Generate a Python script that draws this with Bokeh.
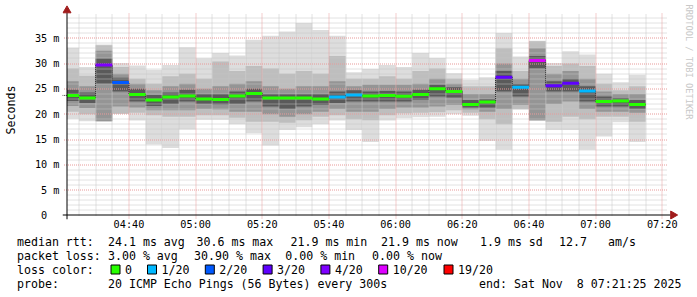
from math import pi
from bokeh.plotting import figure
from bokeh.models import Range1d, FixedTicker
from bokeh.core.properties import value
from bokeh.embed import file_html
from bokeh.resources import INLINE

# ---------------- data ----------------
bar_times = ["04:20", "04:25", "04:30", "04:35", "04:40", "04:45", "04:50", "04:55",
             "05:00", "05:05", "05:10", "05:15", "05:20", "05:25", "05:30", "05:35",
             "05:40", "05:45", "05:50", "05:55", "06:00", "06:05", "06:10", "06:15",
             "06:20", "06:25", "06:30", "06:35", "06:40", "06:45", "06:50", "06:55",
             "07:00", "07:05", "07:10"]
# RTT smoke bands (ms): outermost (min/max) to innermost, plus median
rtt_min = [19.1, 18.6, 18.6, 20.1, 18.75, 14.0, 13.3, 17.0, 18.9, 18.9, 18.0, 16.25, 13.8, 16.9, 17.4, 18.0,
           18.75, 16.9, 14.5, 18.75, 19.2, 19.4, 19.5, 20.0, 19.7, 14.7, 13.0, 20.9, 18.75, 16.9, 16.9, 13.0,
           15.6, 18.4, 14.5]
rtt_lo2 = [20.5, 20.0, 18.6, 20.1, 20.3, 19.8, 19.5, 19.5, 19.8, 19.8, 19.3, 18.5, 18.5, 18.3, 18.8, 19.5,
           19.8, 19.0, 18.8, 19.8, 20.2, 20.3, 20.4, 20.8, 20.3, 19.0, 18.0, 21.0, 18.75, 18.5, 19.5, 19.0,
           19.5, 19.5, 18.5]
rtt_lo3 = [21.6, 21.2, 18.6, 21.5, 21.3, 20.8, 20.8, 20.8, 21.0, 20.9, 20.5, 20.5, 20.0, 19.5, 20.0, 20.5,
           21.0, 20.5, 20.5, 21.0, 21.3, 21.3, 21.5, 21.8, 20.9, 20.5, 21.0, 21.8, 18.8, 22.0, 22.5, 21.0,
           20.5, 20.5, 20.3]
rtt_lo4 = [22.6, 22.2, 26.0, 24.5, 22.5, 21.6, 22.0, 22.5, 22.0, 21.9, 22.0, 22.5, 21.5, 21.0, 21.5, 21.8,
           22.2, 22.5, 22.5, 22.5, 22.5, 22.8, 23.5, 23.3, 21.3, 21.3, 24.5, 23.5, 29.0, 24.5, 24.5, 22.5,
           21.5, 21.5, 21.0]
rtt_median = [23.7, 23.2, 29.7, 26.25, 23.9, 22.8, 23.4, 23.6, 23.0, 22.9, 23.6, 24.1, 23.2, 23.2, 23.2, 23.0,
              23.4, 23.8, 23.6, 23.7, 23.55, 23.9, 25.0, 24.5, 21.9, 22.4, 27.3, 25.3, 30.6, 25.6, 26.1, 24.6,
              22.5, 22.6, 21.9]
rtt_hi4 = [24.8, 24.3, 31.0, 27.2, 25.0, 23.8, 24.3, 24.8, 24.0, 24.0, 24.5, 25.0, 24.0, 24.0, 24.0, 24.0,
           24.5, 24.7, 24.5, 24.6, 24.5, 24.8, 25.8, 25.3, 22.8, 23.0, 28.5, 26.0, 31.5, 26.5, 27.0, 25.5,
           23.5, 23.2, 22.8]
rtt_hi3 = [26.5, 25.5, 32.5, 28.0, 26.0, 24.7, 25.5, 26.0, 25.0, 25.5, 26.0, 26.5, 25.5, 25.0, 25.5, 25.5,
           26.5, 25.5, 25.8, 25.8, 25.8, 26.0, 27.0, 26.0, 24.0, 24.0, 30.0, 27.0, 33.0, 28.0, 28.5, 27.0,
           24.5, 24.0, 24.0]
rtt_hi2 = [29.0, 27.6, 33.6, 29.3, 27.0, 26.0, 27.5, 28.0, 27.0, 30.4, 28.5, 29.5, 29.0, 28.0, 28.5, 28.0,
           31.5, 27.0, 27.0, 27.5, 27.0, 28.5, 29.0, 27.0, 25.5, 25.5, 33.0, 28.5, 34.4, 29.5, 30.0, 29.5,
           26.0, 24.7, 25.5]
rtt_max = [33.1, 29.3, 33.75, 30.1, 29.6, 28.75, 29.7, 33.2, 31.05, 32.1, 31.6, 34.7, 35.5, 36.3, 38.0, 36.6,
           35.5, 28.3, 28.9, 29.7, 29.3, 32.1, 31.1, 28.1, 26.8, 27.3, 36.0, 31.4, 34.5, 30.1, 32.4, 31.8,
           28.0, 26.3, 27.8]
# lost pings out of 20 per step
loss = [0, 0, 4, 2, 0, 0, 0, 0, 0, 0, 0, 0, 0, 0, 0, 0,
        1, 1, 0, 0, 0, 0, 0, 0, 0, 0, 3, 1, 10, 3, 3, 1,
        0, 0, 0]

loss_thresholds = [0, 1, 2, 3, 4, 10, 19]
loss_labels = ["0", "1/20", "2/20", "3/20", "4/20", "10/20", "19/20"]
loss_colors = ["#26ff00", "#00b8ff", "#0059ff", "#5e00ff", "#7e00ff", "#dd00ff", "#ff0000"]

x_tick_values = ["04:40", "05:00", "05:20", "05:40", "06:00", "06:20", "06:40", "07:00", "07:20"]
y_tick_values = [0, 5, 10, 15, 20, 25, 30, 35]
y_tick_labels = ["0\u00a0\u00a0", "5 m", "10 m", "15 m", "20 m", "25 m", "30 m", "35 m"]

window_start = "04:21:25"
window_end = "07:21:25"
step_minutes = 5

legend_row1 = ["median rtt:", "24.1 ms avg", "30.6 ms max", "21.9 ms min", "21.9 ms now", "1.9 ms sd", "12.7", "am/s"]
legend_row2 = ["packet loss:", "3.00 % avg", "30.90 % max", "0.00 % min", "0.00 % now"]
legend_row3_title = "loss color:"
probe_row = ["probe:", "20 ICMP Echo Pings (56 Bytes) every 300s"]
end_text = "end: Sat Nov\u00a0 8 07:21:25 2025"
watermark = "RRDTOOL / TOBI OETIKER"


def to_min(s):
    parts = [int(v) for v in s.split(":")]
    while len(parts) < 3:
        parts.append(0)
    return parts[0] * 60 + parts[1] + parts[2] / 60.0


T0, T1 = to_min(window_start), to_min(window_end)
starts = [to_min(t) for t in bar_times]
ends = [s + step_minutes for s in starts]
lefts = [max(s, T0) for s in starts]


def loss_color(n):
    c = loss_colors[0]
    for th, col in zip(loss_thresholds, loss_colors):
        if n >= th:
            c = col
    return c


# ---------------- geometry (pixels of the 697x297 page) ----------------
W, H = 697, 297
MAIN_H = 234            # main figure height; legend figure below
FRAME_L, FRAME_B = 62, 219
AX_X, AX_Y = 66.5, 215.0        # pixel of (window_start, 0 ms)
PX_PER_MIN = 600.0 / (T1 - T0)
PX_PER_MS = 5.066


def t_at(px):
    return T0 + (px - AX_X) / PX_PER_MIN


def v_at(py):
    return (AX_Y - py) / PX_PER_MS


def snap_t(t):
    px = AX_X + (t - T0) * PX_PER_MIN
    return t_at(round(px - 0.5) + 0.5)


def snap_v(v):
    py = AX_Y - v * PX_PER_MS
    return v_at(round(py - 0.5) + 0.5)


MONO = "DejaVu Sans Mono"

p = figure(width=W, height=MAIN_H, output_backend="svg", toolbar_location=None,
           x_range=Range1d(t_at(FRAME_L), t_at(W)),
           y_range=Range1d(v_at(FRAME_B), v_at(0)),
           min_border_left=FRAME_L, min_border_right=0, min_border_top=0,
           min_border_bottom=MAIN_H - FRAME_B)
p.outline_line_color = None
p.background_fill_color = "white"
p.border_fill_color = "white"
p.xgrid.visible = False
p.ygrid.visible = False

# smoke: outer to inner
bands = [(rtt_min, rtt_max, "#dddddd"),
         (rtt_lo2, rtt_hi2, "#bebebe"),
         (rtt_lo3, rtt_hi3, "#959595"),
         (rtt_lo4, rtt_hi4, "#5a5a5a")]
for lo, hi, col in bands:
    p.quad(left=lefts, right=ends, bottom=lo, top=hi, fill_color=col, line_color=None)

# grid (drawn over the smoke, like rrdtool)
x_major = [to_min(t) for t in x_tick_values]
x_minor = [m for m in range(int(to_min("04:25")), int(T1), 5) if m not in x_major]
y_minor = [v for v in range(1, 40) if v % 5 != 0]
grid_top = v_at(13)
p.segment(x0=[t_at(AX_X + 0.5)] * len(y_minor), x1=[T1] * len(y_minor),
          y0=[snap_v(v) for v in y_minor], y1=[snap_v(v) for v in y_minor],
          line_color="#c4c4c4", line_width=1, line_dash="1 1")
p.segment(x0=[snap_t(t) for t in x_minor], x1=[snap_t(t) for t in x_minor],
          y0=[0] * len(x_minor), y1=[grid_top] * len(x_minor),
          line_color="#c4c4c4", line_width=1, line_dash="1 1")
ymaj = [v for v in y_tick_values if v > 0]
p.segment(x0=[t_at(AX_X - 3)] * len(ymaj), x1=[T1] * len(ymaj),
          y0=[snap_v(v) for v in ymaj], y1=[snap_v(v) for v in ymaj],
          line_color="#e89a9a", line_width=1, line_dash="1 1")
p.segment(x0=[snap_t(t) for t in x_major], x1=[snap_t(t) for t in x_major],
          y0=[v_at(AX_Y + 3)] * len(x_major), y1=[grid_top] * len(x_major),
          line_color="#e89a9a", line_width=1, line_dash="1 1")

# median step connector + median coloured by loss
p.step(x=starts + [ends[-1]], y=rtt_median + [rtt_median[-1]], mode="after",
       line_color="#1a1a1a", line_width=1, line_dash="1 1")
p.segment(x0=lefts, x1=ends, y0=rtt_median, y1=rtt_median,
          line_color=[loss_color(n) for n in loss], line_width=3, line_cap="butt")

# axis lines with arrows
ARROW_RED = "#a01c1c"
y_axis_line = snap_v(0)
p.segment(x0=[t_at(62), T0], x1=[t_at(670), T0], y0=[y_axis_line, v_at(219)], y1=[y_axis_line, v_at(12)],
          line_color="black", line_width=1)
p.scatter(x=[t_at(672.5), T0], y=[y_axis_line, v_at(10)], marker="triangle", size=8,
          angle=[-pi / 2, 0.0], fill_color=ARROW_RED, line_color=ARROW_RED)

# watermark
p.text(x=[t_at(688)], y=[v_at(4)], text=[watermark], angle=-pi / 2,
       text_font=value(MONO), text_font_size="8.7px", text_color="#c8c8c8",
       text_align="left", text_baseline="middle")

# axes (ticks/labels)
p.xaxis.ticker = FixedTicker(ticks=x_major)
p.xaxis.major_label_overrides = {int(k): v for k, v in zip(x_major, x_tick_values)}
p.yaxis.ticker = FixedTicker(ticks=y_tick_values)
p.yaxis.major_label_overrides = dict(zip(y_tick_values, y_tick_labels))
for ax in (p.xaxis[0], p.yaxis[0]):
    ax.axis_line_color = None
    ax.major_tick_line_color = None
    ax.minor_tick_line_color = None
    ax.major_tick_out = 0
    ax.major_tick_in = 0
    ax.minor_tick_out = 0
    ax.minor_tick_in = 0
    ax.major_label_text_font = MONO
    ax.major_label_text_font_size = "10.2px"
    ax.major_label_text_color = "#000000"
p.xaxis.major_label_standoff = -1
p.yaxis.major_label_standoff = 3
p.yaxis.axis_label = "Seconds"
p.yaxis.axis_label_text_font = MONO
p.yaxis.axis_label_text_font_size = "11.6px"
p.yaxis.axis_label_text_font_style = "normal"
p.yaxis.axis_label_text_color = "#000000"
p.yaxis.axis_label_standoff = 14

# ---------------- legend (separate root below, frame = whole strip) ----------------
LEG_H = H - MAIN_H
q = figure(width=W, height=LEG_H, output_backend="svg", toolbar_location=None,
           x_range=Range1d(0, W), y_range=Range1d(H, MAIN_H),
           x_axis_type=None, y_axis_type=None, min_border=0)
q.outline_line_color = None
q.background_fill_color = "white"
q.border_fill_color = "white"
q.grid.visible = False

FS = "11.6px"
row1_x = [16.5, 107.5, 196.0, 290.0, 380.5, 479.5, 558.5, 607.5]
row2_x = [16.5, 107.5, 193.6, 284.8, 371.6]
lbl_x = [124.5, 161.0, 218.8, 276.6, 334.4, 392.2, 457.5]
ROW_Y = [241, 255, 269, 283]

txt_x = row1_x + row2_x + [16.5] + lbl_x + [16.5, 107.5]
txt_y = ([ROW_Y[0]] * len(row1_x) + [ROW_Y[1]] * len(row2_x) + [ROW_Y[2]] * (1 + len(lbl_x))
         + [ROW_Y[3]] * 2)
txt_s = legend_row1 + legend_row2 + [legend_row3_title] + loss_labels + probe_row
q.text(x=txt_x, y=txt_y, text=txt_s, text_font=value(MONO), text_font_size=FS,
       text_color="#000000", text_align="left", text_baseline="middle")
q.text(x=[681], y=[ROW_Y[3]], text=[end_text], text_font=value(MONO), text_font_size=FS,
       text_color="#000000", text_align="right", text_baseline="middle")
q.quad(left=[lx - 14 for lx in lbl_x], right=[lx - 5 for lx in lbl_x],
       top=[ROW_Y[2] - 4.5] * len(lbl_x), bottom=[ROW_Y[2] + 4.5] * len(lbl_x),
       fill_color=loss_colors, line_color="black", line_width=1)

open("out.html", "w").write(file_html([p, q], INLINE))
